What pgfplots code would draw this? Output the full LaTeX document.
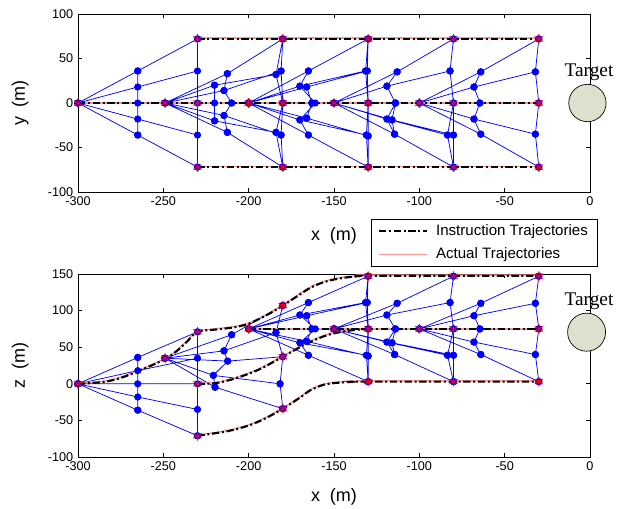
\documentclass[border=0pt]{standalone}
\usepackage{fontspec}
\setmainfont{Liberation Sans}
\newfontfamily\timesfont{Liberation Serif}
\usepackage{pgfplots}
\pgfplotsset{compat=1.18}

\definecolor{pinktraj}{RGB}{255,150,150}
\definecolor{targetfill}{RGB}{220,224,204}

\pgfplotsset{
  uavaxis/.style={
    scale only axis, width=384pt,
    xmin=-300, xmax=0, xtick distance=50, ytick distance=50,
    clip=false, tick align=inside, major tick length=3pt,
    tick label style={font=\fontsize{9.5}{10}\selectfont},
    label style={font=\fontsize{13.5}{15}\selectfont},
    /pgf/number format/assume math mode=true,
    axis line style={line width=0.6pt},
    every tick/.style={black, line width=0.5pt},
  },
  net/.style={blue, line width=0.55pt, mark=*, mark size=2.4pt,
    mark options={solid, fill=blue, draw=blue}, unbounded coords=jump, forget plot},
  instr/.style={black, line width=1.6pt, dash pattern=on 5.5pt off 2pt on 1.5pt off 2pt},
  actual/.style={pinktraj, line width=1pt},
  lead/.style={only marks, red, mark=asterisk, mark size=3.6pt,
    mark options={line width=0.7pt}, forget plot},
}

\begin{document}
\begin{tikzpicture}
\path[use as bounding box] (0,0) rectangle (471.75pt,-381pt);

% ---------------- x-y plane ----------------
\begin{axis}[uavaxis, height=133.5pt, ymin=-100, ymax=100,
  at={(58.5pt,-144pt)}, anchor=south west,
  xlabel={x\ \ (m)}, ylabel={y\ \ (m)},
  xlabel style={at={(axis description cs:0.5,-0.247)}, anchor=center},
  ylabel style={at={(axis description cs:-0.113,0.5)}, anchor=center},
]
\addplot[net] table[row sep=\\] {
x y\\
-300 0\\ -265 36\\ -230 72\\ nan nan\\
-300 0\\ -265 18\\ -230 36\\ nan nan\\
-300 0\\ -265 0\\ -230 0\\ nan nan\\
-300 0\\ -265 -18\\ -230 -36\\ nan nan\\
-300 0\\ -265 -36\\ -230 -72\\ nan nan\\
-265 36\\ -265 -36\\ nan nan\\
-230 72\\ -230 -72\\ nan nan\\
-249 0\\ -212.5 33\\ -180 72\\ nan nan\\
-249 0\\ -214.5 14\\ -181 36\\ nan nan\\
-249 0\\ -210 0\\ -180 0\\ nan nan\\
-249 0\\ -214.5 -14\\ -181 -36\\ nan nan\\
-249 0\\ -212.5 -33\\ -180 -72\\ nan nan\\
-249 0\\ -220 20\\ -184 32\\ nan nan\\
-249 0\\ -220 -20\\ -184 -33\\ nan nan\\
-212.5 33\\ -214.5 14\\ -210 0\\ -214.5 -14\\ -212.5 -33\\ nan nan\\
-220 20\\ -220 0\\ -220 -20\\ nan nan\\
-180 72\\ -181 36\\ -180 0\\ -181 -36\\ -180 -72\\ nan nan\\
-180 72\\ -184 32\\ -180 0\\ -184 -33\\ -180 -72\\ nan nan\\
-200 0\\ -165 36\\ -130 72\\ nan nan\\
-200 0\\ -170 19\\ -131.5 36\\ nan nan\\
-200 0\\ -166 18\\ -130.5 36\\ nan nan\\
-200 0\\ -163 0\\ -130 0\\ nan nan\\
-200 0\\ -170 -19\\ -131 -36\\ nan nan\\
-200 0\\ -166 -17\\ -130 -37\\ nan nan\\
-200 0\\ -165 -36\\ -130 -72\\ nan nan\\
-165 36\\ -170 19\\ -161 0\\ -170 -19\\ -165 -36\\ nan nan\\
-166 18\\ -163 0\\ -166 -17\\ nan nan\\
-130 72\\ -131.5 36\\ -130 0\\ -131 -36\\ -130 -72\\ nan nan\\
-130 72\\ -130.5 36\\ -130 0\\ -130 -37\\ -130 -72\\ nan nan\\
-150 0\\ -113 35\\ -80 72\\ nan nan\\
-150 0\\ -119 19\\ -82 36\\ nan nan\\
-150 0\\ -114 0\\ -80 0\\ nan nan\\
-150 0\\ -119 -18\\ -83.5 -36\\ nan nan\\
-150 0\\ -116 -19\\ -80 -36\\ nan nan\\
-150 0\\ -114.5 -35\\ -80 -72\\ nan nan\\
-113 35\\ -119 19\\ -114 0\\ -119 -18\\ -114.5 -35\\ nan nan\\
-114 0\\ -116 -19\\ -114.5 -35\\ nan nan\\
-80 72\\ -82 36\\ -80 0\\ -83.5 -36\\ -80 -72\\ nan nan\\
-80 0\\ -80 -36\\ -80 -72\\ nan nan\\
-100 0\\ -64 35\\ -30 72\\ nan nan\\
-100 0\\ -68 18\\ -32 35\\ nan nan\\
-100 0\\ -64.5 0\\ -30 0\\ nan nan\\
-100 0\\ -68 -18\\ -32 -35\\ nan nan\\
-100 0\\ -64 -35\\ -30 -72\\ nan nan\\
-64 35\\ -68 18\\ -64.5 0\\ -68 -18\\ -64 -35\\ nan nan\\
-30 72\\ -32 35\\ -30 0\\ -32 -35\\ -30 -72\\
};
% actual trajectories
\addplot[actual, forget plot] coordinates {(-300,0.8) (-30,0.8)};
\addplot[actual, forget plot] coordinates {(-230,73) (-30,73)};
\addplot[actual, forget plot] coordinates {(-230,-71) (-30,-71)};
% instruction trajectories
\addplot[instr, forget plot] coordinates {(-300,0) (-30,0)};
\addplot[instr, forget plot] coordinates {(-230,72) (-30,72)};
\addplot[instr, forget plot] coordinates {(-230,-72) (-30,-72)};
% leaders
\addplot[lead] table[row sep=\\] {
x y\\
-300 0\\ -249 0\\ -200 0\\ -150 0\\ -100 0\\
-230 72\\ -230 0\\ -230 -72\\ -180 72\\ -180 0\\ -180 -72\\
-130 72\\ -130 0\\ -130 -72\\ -80 72\\ -80 0\\ -80 -72\\
-30 72\\ -30 0\\ -30 -72\\
};
\node[circle, draw=black, line width=0.5pt, fill=targetfill, minimum size=28pt, inner sep=0pt] at (axis cs:-1.5,0) {};
\node[font=\timesfont\fontsize{14.5}{16}\selectfont] at (axis cs:-0.6,35) {Target};
\end{axis}

% ---------------- x-z plane ----------------
\begin{axis}[uavaxis, height=137.25pt, ymin=-100, ymax=150,
  at={(58.5pt,-342.75pt)}, anchor=south west,
  xlabel={x\ \ (m)}, ylabel={z\ \ (m)},
  xlabel style={at={(axis description cs:0.5,-0.219)}, anchor=center},
  ylabel style={at={(axis description cs:-0.113,0.5)}, anchor=center},
  legend style={at={(0.572,1.30)}, anchor=north west, draw=black, line width=0.6pt,
    font=\fontsize{11.3}{12}\selectfont, inner xsep=5pt, inner ysep=2pt,
    row sep=3.5pt, cells={anchor=west},
    /tikz/every odd column/.append style={column sep=4pt}},
  legend image code/.code={\draw[#1] (0pt,0pt) -- (36pt,0pt);},
]
\addlegendimage{instr}
\addlegendentry{Instruction Trajectories}
\addlegendimage{pinktraj, solid, line width=1pt}
\addlegendentry{Actual Trajectories}

\addplot[net] table[row sep=\\] {
x y\\
-300 0\\ -265 36\\ -230 71\\ nan nan\\
-300 0\\ -265 18\\ -230 35\\ nan nan\\
-300 0\\ -265 0\\ -230 0\\ nan nan\\
-300 0\\ -265 -18\\ -230 -35\\ nan nan\\
-300 0\\ -265 -36\\ -230 -71\\ nan nan\\
-265 36\\ -265 -36\\ nan nan\\
-230 71\\ -230 -71\\ nan nan\\
-249 35\\ -210 67\\ -180 107\\ nan nan\\
-249 35\\ -214.5 45\\ -184 70\\ nan nan\\
-249 35\\ -212.3 31\\ -180 37\\ nan nan\\
-249 35\\ -220.7 11.5\\ -181.6 0\\ nan nan\\
-249 35\\ -219.7 -4.6\\ -180 -34\\ nan nan\\
-210 67\\ -214.5 45\\ -212.3 31\\ -220.7 11.5\\ -219.7 -4.6\\ nan nan\\
-180 107\\ -184 70\\ -180 37\\ -181.6 0\\ -180 -34\\ nan nan\\
-200 75\\ -165 111\\ -130 147\\ nan nan\\
-200 75\\ -170 94\\ -131.5 111\\ nan nan\\
-200 75\\ -166 93\\ -130.5 111\\ nan nan\\
-200 75\\ -163 75\\ -130 75\\ nan nan\\
-200 75\\ -170 56\\ -131 39\\ nan nan\\
-200 75\\ -166 58\\ -130 38\\ nan nan\\
-200 75\\ -165 39\\ -130 3\\ nan nan\\
-165 111\\ -170 94\\ -161 75\\ -170 56\\ -165 39\\ nan nan\\
-166 93\\ -163 75\\ -166 58\\ nan nan\\
-130 147\\ -131.5 111\\ -130 75\\ -131 39\\ -130 3\\ nan nan\\
-130 147\\ -130.5 111\\ -130 75\\ -130 38\\ -130 3\\ nan nan\\
-150 75\\ -113 110\\ -80 147\\ nan nan\\
-150 75\\ -119 94\\ -82 111\\ nan nan\\
-150 75\\ -114 75\\ -80 75\\ nan nan\\
-150 75\\ -119 57\\ -83.5 39\\ nan nan\\
-150 75\\ -116 56\\ -80 39\\ nan nan\\
-150 75\\ -114.5 40\\ -80 3\\ nan nan\\
-113 110\\ -119 94\\ -114 75\\ -119 57\\ -114.5 40\\ nan nan\\
-114 75\\ -116 56\\ -114.5 40\\ nan nan\\
-80 147\\ -82 111\\ -80 75\\ -83.5 39\\ -80 3\\ nan nan\\
-80 75\\ -80 39\\ -80 3\\ nan nan\\
-100 75\\ -64 110\\ -30 147\\ nan nan\\
-100 75\\ -68 93\\ -32 110\\ nan nan\\
-100 75\\ -64.5 75\\ -30 75\\ nan nan\\
-100 75\\ -68 57\\ -32 40\\ nan nan\\
-100 75\\ -64 40\\ -30 3\\ nan nan\\
-64 110\\ -68 93\\ -64.5 75\\ -68 57\\ -64 40\\ nan nan\\
-30 147\\ -32 110\\ -30 75\\ -32 40\\ -30 3\\
};
% actual trajectories (slightly offset under the instructions)
\addplot[actual, forget plot, smooth] coordinates {
(-300,1) (-285,3.5) (-275,9) (-265,18) (-256,27) (-248,36) (-242,46) (-236,59) (-230,72)
(-220,75) (-209,78) (-200,83) (-193.5,90) (-187,98) (-180,108) (-172,120) (-164,132)
(-157,139) (-150,143.5) (-142,146.5) (-135,148) (-130,148.5) (-30,148.5)};
\addplot[actual, forget plot] coordinates {(-200,76) (-30,76)};
\addplot[actual, forget plot, smooth] coordinates {
(-230,1) (-219,2) (-207,9) (-193.5,21) (-180,38) (-166,56) (-157,65) (-150,70) (-140,74) (-130,76)};
\addplot[actual, forget plot, smooth] coordinates {
(-230,-70) (-213,-64) (-200,-56) (-190,-46) (-180,-33) (-170,-18) (-164,-8) (-157,-1)
(-150,2) (-140,3.5) (-130,4) (-30,4)};
% instruction trajectories
\addplot[instr, forget plot, smooth] coordinates {
(-300,0) (-285,2.5) (-275,8) (-265,17) (-256,26) (-248,35) (-242,45) (-236,58) (-230,71)
(-220,74) (-209,77) (-200,82) (-193.5,89) (-187,97) (-180,106.8) (-172,119) (-164,131)
(-157,138) (-150,142.5) (-142,145.5) (-135,147) (-130,147.5) (-30,147.5)};
\addplot[instr, forget plot] coordinates {(-200,75) (-30,75)};
\addplot[instr, forget plot, smooth] coordinates {
(-230,0) (-219,1) (-207,8) (-193.5,20) (-180,37) (-166,55) (-157,64) (-150,69) (-140,73) (-130,75)};
\addplot[instr, forget plot, smooth] coordinates {
(-230,-71) (-213,-65) (-200,-57) (-190,-47) (-180,-34) (-170,-19) (-164,-9) (-157,-2)
(-150,1) (-140,2.5) (-130,3) (-30,3)};
% leaders
\addplot[lead] table[row sep=\\] {
x y\\
-300 0\\ -249 35\\ -200 75\\ -150 75\\ -100 75\\
-230 71\\ -230 0\\ -230 -71\\ -180 107\\ -180 37\\ -180 -34\\
-130 147\\ -130 75\\ -130 3\\ -80 147\\ -80 75\\ -80 3\\
-30 147\\ -30 75\\ -30 3\\
};
\node[circle, draw=black, line width=0.5pt, fill=targetfill, minimum size=28.5pt, inner sep=0pt] at (axis cs:-2,70.5) {};
\node[font=\timesfont\fontsize{14.5}{16}\selectfont] at (axis cs:-0.6,113) {Target};
\end{axis}
\end{tikzpicture}
\end{document}
